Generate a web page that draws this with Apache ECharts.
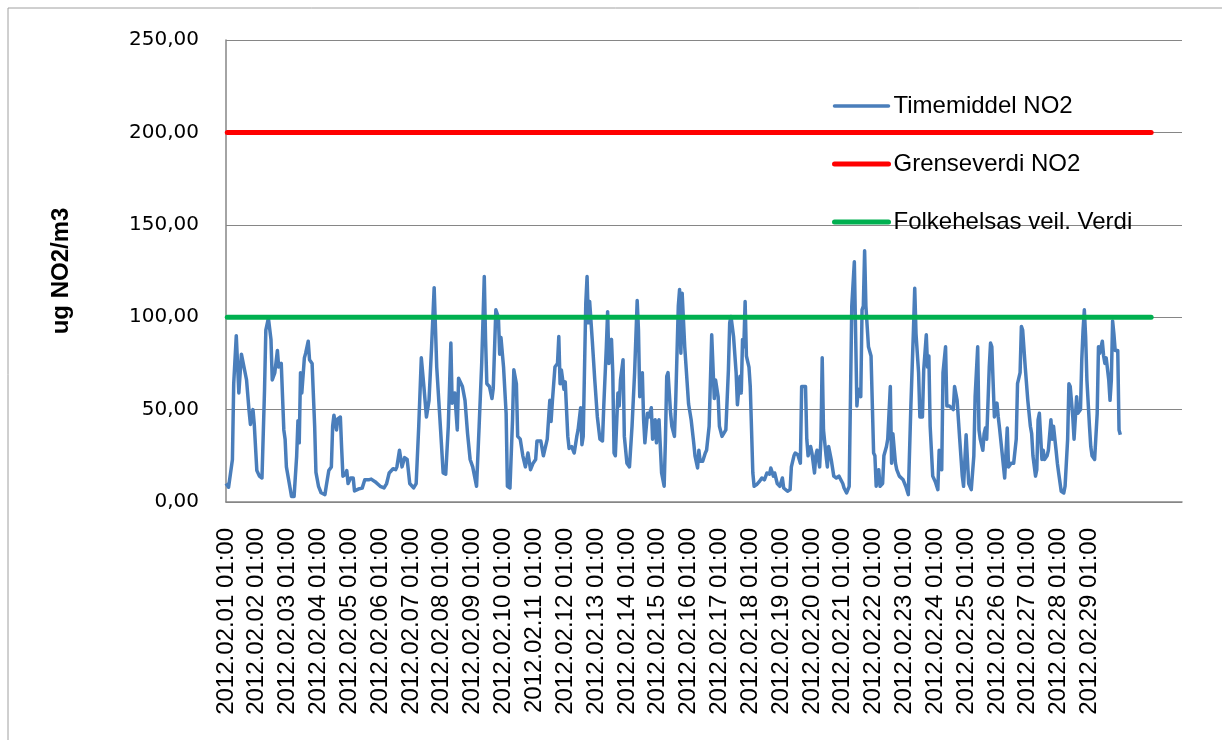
<!DOCTYPE html>
<html>
<head>
<meta charset="utf-8">
<title>Timemiddel NO2 februar 2012</title>
<script src="https://cdn.jsdelivr.net/npm/echarts@6.0.0/dist/echarts.min.js"></script>
<style>
    html, body { margin: 0; padding: 0; background: #fff; }
    #main { width: 1222px; height: 740px; }
</style>
</head>
<body>
<div id="main"></div>
<script>
// tick labels, one per day (hour 0, 24, 48 ...)
const dayLabels = [
    '2012.02.01 01:00', '2012.02.02 01:00', '2012.02.03 01:00', '2012.02.04 01:00',
    '2012.02.05 01:00', '2012.02.06 01:00', '2012.02.07 01:00', '2012.02.08 01:00',
    '2012.02.09 01:00', '2012.02.10 01:00', '2012.02.11 01:00', '2012.02.12 01:00',
    '2012.02.13 01:00', '2012.02.14 01:00', '2012.02.15 01:00', '2012.02.16 01:00',
    '2012.02.17 01:00', '2012.02.18 01:00', '2012.02.19 01:00', '2012.02.20 01:00',
    '2012.02.21 01:00', '2012.02.22 01:00', '2012.02.23 01:00', '2012.02.24 01:00',
    '2012.02.25 01:00', '2012.02.26 01:00', '2012.02.27 01:00', '2012.02.28 01:00',
    '2012.02.29 01:00'
]

// NO2 readings, [hour since 2012.02.01 01:00, ug/m3]
const week1 = [[0,10],[2,8],[3,7],[5,23],[6,64],[8,90],[10,59],[12,80],[13,80],[16,66],[18,49],[19,42],[21,50],[22,42],[24,17],[26,14],[28,13],[30,61],[31,93],[33,99.5],[35,88],[36,66],[38,70],[40,82],[41,73],[43,75],[45,39],[46,34],[47,19],[50,7],[51,3],[53,3],[55,25],[56,44],[57,32],[58,70],[59,59],[61,78],[62,80.5],[64,87],[65,77],[67,75],[69,41],[70,16],[72,8.5],[74,5],[77,4],[78,8.5],[80,17],[82,19],[83,41],[84,47],[86,39],[87,45],[89,46],[90,29],[91,14],[93,15],[94,17],[95,10],[97,13],[99,13],[100,6],[103,7],[106,7.5],[108,12],[111,12],[113,12.4],[116,11],[120,8.5],[123,7.6],[125,10],[127,15.7],[130,18],[132,17.5],[133,19],[135,28],[137,19],[139,24],[141,23],[143,10],[146,7.6],[148,10],[150,41],[152,78],[154,62.5],[156,46],[158,55],[160,84],[162,116],[163,115],[164,73],[167,39]]
const week2 = [[169,15.7],[171,15],[173,41],[175,86],[176,53.5],[178,59],[180,39],[181,67],[184,62.5],[186,55],[188,37],[190,23],[192,19],[195,8.5],[196,7.6],[197,41],[199,75],[201,122],[202,88],[203,64],[205,62.5],[207,56],[208,61.6],[210,104],[212,100],[213,80],[214,89],[216,73],[218,48],[219,8.5],[221,7.6],[223,44.5],[224,71.5],[226,64],[227,35.5],[229,34],[231,25],[233,19],[235,26.5],[237,17.5],[239,21],[241,23],[242,33],[245,33],[247,25],[250,34],[252,55],[253,43.6],[254,54.4],[256,73],[258,75],[259,89.5],[260,64],[261,71.5],[263,61],[264,65],[266,35.5],[267,29],[269,30],[271,26.5],[273,35.5],[274,39],[276,51],[277,31],[278,35.5],[280,107.5],[281,122],[282,97],[283,108.5],[285,88],[287,66],[289,46],[291,34],[293,33],[294,52],[296,84],[297,103],[298,75],[300,88],[301,70],[302,26.5],[303,25],[305,59],[306,52],[307,66],[309,77],[310,35.5],[312,21],[314,19],[316,41],[318,70],[320,109],[321,93],[322,57],[324,70],[325,44.5],[326,32],[328,48],[329,46],[331,51],[332,34],[334,44.5],[335,32]]
const week3 = [[336,43],[337,44.5],[339,15.7],[341,8.5],[342,34],[343,68],[344,70],[346,48],[347,41],[349,35.5],[350,55],[352,106],[353,115],[354,80.5],[355,113],[357,84],[358,84],[360,53],[362,44.5],[364,32],[365,25],[367,18.4],[368,28],[369,22],[371,22],[373,26.5],[374,28],[376,41],[377,40],[378,90.5],[380,56],[381,66],[382,66],[383,57],[384,41],[386,35.5],[387,34.6],[389,39],[391,71.5],[392,97],[393,100.4],[394,95],[395,89.5],[397,70],[398,52.6],[400,68],[401,59],[402,88],[403,84],[404,108.5],[405,79],[407,73],[408,62.5],[410,15.7],[411,8.5],[413,9.4],[415,11],[417,13],[419,12],[421,15.7],[423,15],[424,18.4],[426,14],[427,15.7],[429,10],[431,8.5],[433,13],[434,7.6],[437,5.8],[439,6.7],[440,19],[442,25],[443,26.5],[445,25.6],[447,21],[448,62.5],[449,62.5],[451,62.5],[452,34],[453,25],[455,30],[456,26.5],[458,15.7],[459,25],[460,28],[462,19],[463,34],[464,78],[465,39],[467,25],[468,19],[469,30],[471,23],[473,14],[475,13],[477,14],[480,10],[481,7.6],[483,4.9],[485,8.5],[486,57],[487,106],[489,130],[490,91],[491,52],[492,61],[494,57],[495,104],[496,106],[497,136],[498,106],[500,84],[502,79]]
const week4 = [[504,26.5],[505,25],[506,8.5],[508,17.5],[509,8.5],[511,10],[512,25],[514,30],[515,34],[517,62.5],[518,21],[519,37],[521,21],[522,17.5],[524,14],[527,12],[529,8.5],[531,4],[533,52],[535,93],[536,115.7],[537,91],[539,70],[540,46],[542,46],[543,71.5],[545,90.5],[546,73],[547,79],[548,41],[550,14],[552,11],[554,6.7],[555,28],[557,17.5],[558,70],[560,84],[561,52],[563,52],[564,52],[566,50],[567,62.5],[569,55],[571,34],[573,14],[574,8.5],[576,36.4],[578,10],[580,6.7],[582,25],[583,57],[585,84],[586,39],[587,34],[589,28],[590,37],[591,40],[592,34],[594,73],[595,86],[596,84],[598,46],[600,53.5],[601,46],[602,40],[604,26.5],[606,13],[608,40],[609,19],[611,21],[613,21],[615,34],[616,64],[618,70],[619,95],[620,93],[622,73],[624,55],[626,41],[627,37],[628,25],[630,14],[631,17.5],[632,44.5],[633,48],[635,23],[636,28],[637,23],[639,25],[640,28],[642,44.5],[643,34],[644,41],[646,28],[647,21],[648,15.7],[650,5.8],[652,4.9],[653,8.5],[655,34],[656,64],[657,62.5],[659,46],[660,34],[662,57],[663,48],[665,50],[666,77],[667,93],[668,104],[669,89.5],[670,66]]
const week5 = [[672,41],[673,30],[674,25],[676,23],[678,48],[679,84],[680,80.5],[682,87],[683,79],[684,75],[685,78],[687,66],[688,55],[689,66],[690,98],[691,91],[692,82],[694,82],[695,39],[696,36.4]]

// limit values (constant lines)
const limitHours = [1, 720]
const grenseverdi = 200
const folkehelse = 100

const no2 = week1.concat(week2, week3, week4, week5)

var myChart = echarts.init(document.getElementById('main'))

const fontText = 'Liberation Sans, Arial, sans-serif'
const gridColor = '#868686'
const noSymbol = { color: 'transparent', borderColor: 'transparent', borderWidth: 0 }

option = {
    animation: false,
    backgroundColor: '#fff',
    graphic: [{
        type: 'rect',
        shape: { x: 8, y: 8, width: 1300, height: 800 },
        style: { fill: 'none', stroke: '#a0a0a0', lineWidth: 1 },
        silent: true
    }],
    grid: { left: 226, right: 40, top: 40, bottom: 238 },
    legend: {
        orient: 'vertical',
        left: 832,
        top: 94,
        padding: 0,
        itemWidth: 54,
        itemHeight: 6,
        itemGap: 34,
        textStyle: { fontFamily: fontText, fontSize: 24, color: '#000' },
        data: [
            { name: 'Timemiddel NO2', itemStyle: noSymbol, lineStyle: { width: 3.5, cap: 'round' } },
            { name: 'Grenseverdi NO2', itemStyle: noSymbol, lineStyle: { width: 5, cap: 'round' } },
            { name: 'Folkehelsas veil. Verdi', itemStyle: noSymbol, lineStyle: { width: 5, cap: 'round' } }
        ]
    },
    xAxis: {
        type: 'value',
        min: 0,
        max: 744,
        interval: 24,
        axisLine: { show: true, lineStyle: { color: gridColor, width: 1.5 } },
        axisTick: { show: false },
        splitLine: { show: false },
        axisLabel: {
            rotate: 90,
            margin: 26,
            fontFamily: fontText,
            fontSize: 24,
            color: '#000',
            formatter: function (v) {
                return dayLabels[Math.round(v / 24)] || ''
            }
        }
    },
    yAxis: {
        type: 'value',
        min: 0,
        max: 250,
        interval: 50,
        name: 'ug NO2/m3',
        nameLocation: 'middle',
        nameRotate: 90,
        nameGap: 153,
        nameTextStyle: { fontFamily: fontText, fontWeight: 'bold', fontSize: 24, color: '#000' },
        axisLine: { show: true, lineStyle: { color: gridColor, width: 1.5 } },
        axisTick: { show: false },
        splitLine: { lineStyle: { color: gridColor, width: 1 } },
        axisLabel: {
            margin: 27,
            fontFamily: 'DejaVu Sans, Verdana, sans-serif',
            fontSize: 20,
            color: '#000',
            formatter: function (v) {
                return v.toFixed(2).replace('.', ',') //norsk desimalkomma
            }
        }
    },
    series: [{
        name: 'Timemiddel NO2',
        type: 'line',
        symbol: 'none',
        data: no2,
        itemStyle: { color: '#4a7ebb' },
        lineStyle: { color: '#4a7ebb', width: 3.5, join: 'round' }
    }, {
        name: 'Grenseverdi NO2',
        type: 'line',
        symbol: 'none',
        data: limitHours.map(h => [h, grenseverdi]),
        itemStyle: { color: '#ff0000' },
        lineStyle: { color: '#ff0000', width: 5, cap: 'round' }
    }, {
        name: 'Folkehelsas veil. Verdi',
        type: 'line',
        symbol: 'none',
        data: limitHours.map(h => [h, folkehelse]),
        itemStyle: { color: '#00b050' },
        lineStyle: { color: '#00b050', width: 5, cap: 'round' }
    }]
};

myChart.setOption(option);
</script>
</body>
</html>
